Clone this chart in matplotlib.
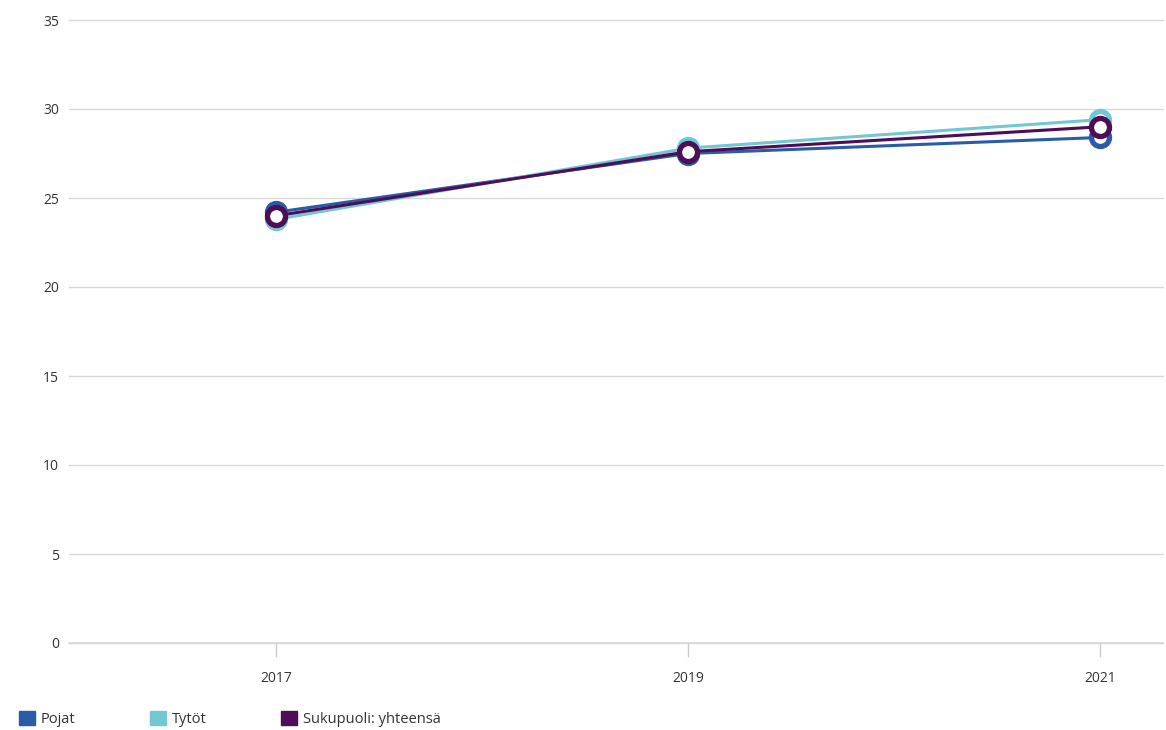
import matplotlib.pyplot as plt
from matplotlib.patches import Patch

years = [2017, 2019, 2021]
pojat = [24.2, 27.5, 28.4]
tytot = [23.8, 27.8, 29.4]
yhteensa = [24.0, 27.6, 29.0]

series = [
    ("Pojat", pojat, "#2a5ba8"),
    ("Tytöt", tytot, "#72c8d2"),
    ("Sukupuoli: yhteensä", yhteensa, "#4e0d57"),
]

plt.rcParams['font.family'] = ['Open Sans', 'DejaVu Sans']

fig = plt.figure(figsize=(11.66, 7.3), dpi=100)
ax = fig.add_axes([69 / 1166, 1 - 643 / 730, (1163 - 69) / 1166, 623 / 730])

for name, vals, col in series:
    ax.plot(years, vals, color=col, lw=2.2, marker="o", ms=13,
            mfc="white", mec=col, mew=3.8, zorder=3)

ax.set_ylim(0, 35)
ax.set_yticks(range(0, 36, 5))
ax.set_xlim(2015.995, 2021.306)
ax.set_xticks(years)
ax.grid(axis="y", color="#d9d9d9", lw=1, clip_on=False)
ax.axhline(0, color="#d9d9d9", lw=1.2, clip_on=False, zorder=1)
ax.set_axisbelow(True)
for s in ax.spines.values():
    s.set_visible(False)
ax.tick_params(axis="y", length=0, pad=7, labelsize=10, labelcolor="#333333")
ax.tick_params(axis="x", length=10, width=1, color="#cccccc", pad=10,
               labelsize=10, labelcolor="#333333", direction="out")

handles = [Patch(facecolor=c, edgecolor=c, label=n) for n, _, c in series]
fig.legend(handles=handles, loc="lower left", bbox_to_anchor=(0.005, -0.014),
           ncol=3, frameon=False, fontsize=10.5, handlelength=1.1, handleheight=1.1,
           handletextpad=0.4, columnspacing=5.1, labelcolor="#333333")

fig.savefig("out.png", dpi=100)
